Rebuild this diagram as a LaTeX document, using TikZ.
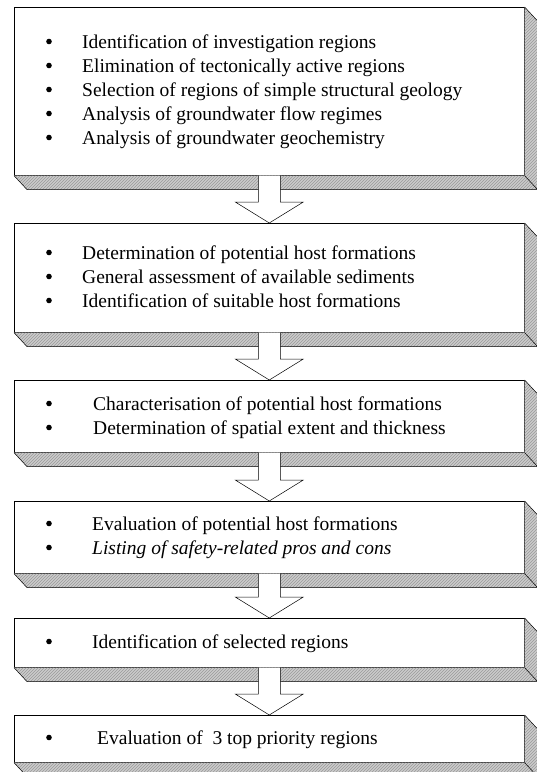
\documentclass[tikz,border=0pt]{standalone}
\usepackage{fontspec}
\setmainfont{Liberation Serif}
\usetikzlibrary{calc,patterns}
\newcommand\boxbevel[1]{%
  \fill[gray!40] (#1.south west) -- ($(#1.south west)+(13,14)$) -- ($(#1.south east)+(13,14)$)
     -- ($(#1.north east)+(13,14)$) -- (#1.north east) -- (#1.south east) -- cycle;
  \fill[pattern=north east lines, pattern color=gray!80] (#1.south west) -- ($(#1.south west)+(13,14)$) -- ($(#1.south east)+(13,14)$)
     -- ($(#1.north east)+(13,14)$) -- (#1.north east) -- (#1.south east) -- cycle;
  \draw[edge] (#1.south west) -- ($(#1.south west)+(13,14)$) -- ($(#1.south east)+(13,14)$)
     -- ($(#1.north east)+(13,14)$) -- (#1.north east);
  \draw[edge] (#1.south east) -- ($(#1.south east)+(13,14)$);
}
\newcommand\flowarrow[2]{%
  \fill[white] ($(#1.south)+(-11,0)$) -- ($(#2.north)+(-11,-21)$) -- ($(#2.north)+(-34,-21)$) -- (#2.north)
     -- ($(#2.north)+(34,-21)$) -- ($(#2.north)+(11,-21)$) -- ($(#1.south)+(11,0)$) -- cycle;
  \draw[edge] ($(#1.south)+(-11,0)$) -- ($(#2.north)+(-11,-21)$) -- ($(#2.north)+(-34,-21)$) -- (#2.north)
     -- ($(#2.north)+(34,-21)$) -- ($(#2.north)+(11,-21)$) -- ($(#1.south)+(11,0)$);
}
\begin{document}
\begin{tikzpicture}[x=1pt,y=-1pt,
  edge/.style={draw=black, line width=0.5pt},
  stepbox/.style={draw=black, line width=0.6pt, fill=white, rectangle, minimum width=510pt, inner sep=0pt, anchor=north west},
  bul/.style={circle, fill=black, inner sep=0pt, minimum size=5.6pt},
  txt/.style={anchor=base west, inner sep=0pt, font=\fontsize{19.5}{24}\selectfont},
]
\useasboundingbox (0,0) rectangle (537,772);

\node[stepbox, minimum height=168pt] (b1) at (14,7) {};
\node[stepbox, minimum height=109pt] (b2) at (14,223) {};
\node[stepbox, minimum height=72pt] (b3) at (14,380) {};
\node[stepbox, minimum height=72pt] (b4) at (14,501) {};
\node[stepbox, minimum height=49pt] (b5) at (14,618) {};
\node[stepbox, minimum height=47pt] (b6) at (14,715) {};

\boxbevel{b1}
\boxbevel{b2}
\boxbevel{b3}
\boxbevel{b4}
\boxbevel{b5}
\boxbevel{b6}

\flowarrow{b1}{b2}
\flowarrow{b2}{b3}
\flowarrow{b3}{b4}
\flowarrow{b4}{b5}
\flowarrow{b5}{b6}

% box 1
\node[bul] (p11) at (49,41.5) {};
\node[txt] (t11) at (82,48) {Identification of investigation regions};
\node[bul] (p12) at (49,65.5) {};
\node[txt] (t12) at (82,72) {Elimination of tectonically active regions};
\node[bul] (p13) at (49,89.5) {};
\node[txt] (t13) at (82,96) {Selection of regions of simple structural geology};
\node[bul] (p14) at (49,113.5) {};
\node[txt] (t14) at (82,120) {Analysis of groundwater flow regimes};
\node[bul] (p15) at (49,137.5) {};
\node[txt] (t15) at (82,144) {Analysis of groundwater geochemistry};

% box 2
\node[bul] (p21) at (49,252.5) {};
\node[txt] (t21) at (82,259) {Determination of potential host formations};
\node[bul] (p22) at (49,276.5) {};
\node[txt] (t22) at (82,283) {General assessment of available sediments};
\node[bul] (p23) at (49,300.5) {};
\node[txt] (t23) at (82,307) {Identification of suitable host formations};

% box 3
\node[bul] (p31) at (49,403.5) {};
\node[txt] (t31) at (93,410) {Characterisation of potential host formations};
\node[bul] (p32) at (49,427.5) {};
\node[txt] (t32) at (93,434) {Determination of spatial extent and thickness};

% box 4
\node[bul] (p41) at (49,523.5) {};
\node[txt] (t41) at (92,530) {Evaluation of potential host formations};
\node[bul] (p42) at (49,547.5) {};
\node[txt] (t42) at (92,554) {\itshape Listing of safety-related pros and cons};

% box 5
\node[bul] (p51) at (49,641.5) {};
\node[txt] (t51) at (92,648) {Identification of selected regions};

% box 6
\node[bul] (p61) at (49,737.5) {};
\node[txt] (t61) at (97,744) {Evaluation of~ 3 top priority regions};
\end{tikzpicture}
\end{document}
